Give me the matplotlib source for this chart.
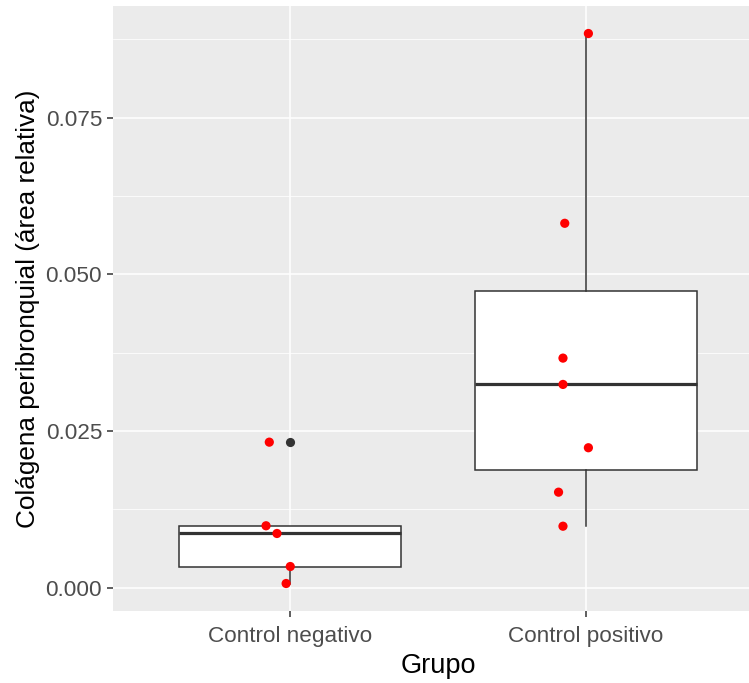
import matplotlib
matplotlib.use("Agg")
import matplotlib.pyplot as plt
import numpy as np

categories = ["Control negativo", "Control positivo"]
neg_values = [0.02324, 0.00990, 0.00867, 0.00340, 0.00069]
pos_values = [0.08844, 0.05816, 0.03665, 0.03245, 0.02235, 0.01526, 0.00983]
neg_jitter = [-0.071, -0.082, -0.045, 0.000, -0.014]
pos_jitter = [0.009, -0.071, -0.077, -0.077, 0.009, -0.092, -0.077]
y_ticks = [0.000, 0.025, 0.050, 0.075]
y_tick_labels = ["0.000", "0.025", "0.050", "0.075"]
x_label = "Grupo"
y_label = "Colágena peribronquial (área relativa)"

plt.rcParams['font.family'] = ['Liberation Sans', 'DejaVu Sans']

fig = plt.figure(figsize=(7.49, 6.83), dpi=100)
W, H = 749, 683
left_px, right_px, top_px, bottom_px = 113, 763, 6, 611
ax = fig.add_axes([left_px / W, 1 - bottom_px / H,
                   (right_px - left_px) / W, (bottom_px - top_px) / H])
ax.set_facecolor("#EBEBEB")
for s in ax.spines.values():
    s.set_visible(False)

data = [neg_values, pos_values]
positions = [1, 2]
edge = "#333333"
ax.boxplot(data, positions=positions, widths=0.75, patch_artist=True,
           whis=1.5,
           boxprops=dict(facecolor="white", edgecolor=edge, linewidth=1.1),
           medianprops=dict(color=edge, linewidth=2.3),
           whiskerprops=dict(color=edge, linewidth=1.1),
           capprops=dict(linewidth=0),
           flierprops=dict(marker='o', markerfacecolor=edge, markeredgecolor=edge,
                           markeredgewidth=0, markersize=6.6),
           zorder=3)

for pos, vals, jit in zip(positions, data, [neg_jitter, pos_jitter]):
    xs = pos + np.array(jit)
    ax.scatter(xs, vals, s=44, color="red", edgecolors="none", zorder=5)

# scales
ax.set_xlim(0.4, 2.6)
allv = np.array(neg_values + pos_values)
lo, hi = allv.min(), allv.max()
pad = 0.05 * (hi - lo)
ax.set_ylim(lo - pad, hi + pad)

ax.set_xticks(positions)
ax.set_xticklabels(categories)
ax.set_yticks(y_ticks)
ax.set_yticklabels(y_tick_labels)
ax.set_yticks([0.0125, 0.0375, 0.0625, 0.0875], minor=True)

ax.grid(which="major", color="white", linewidth=1.1, zorder=0)
ax.grid(which="minor", axis="y", color="white", linewidth=0.55, zorder=0)
ax.set_axisbelow(True)

ax.tick_params(axis="both", which="major", length=4.3, width=1.1, color="#333333",
               labelsize=16.2, labelcolor="#4D4D4D", pad=3.5)
ax.tick_params(axis="x", which="major", pad=6.5)
ax.tick_params(axis="y", which="minor", length=0)

ax.set_xlabel(x_label, fontsize=19.5, color="black", labelpad=4.5)
ax.set_ylabel(y_label, fontsize=18.8, color="black", labelpad=4)

fig.savefig("out.png", dpi=100)
